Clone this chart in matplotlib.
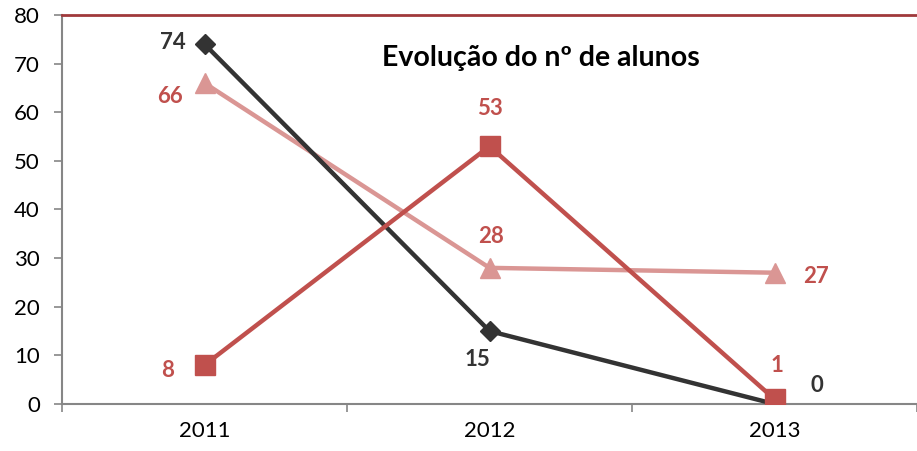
import matplotlib
matplotlib.use("Agg")
from matplotlib import pyplot as plt

# Data
years = ["2011", "2012", "2013"]
serie_preta = [74, 15, 0]
serie_vermelha = [8, 53, 1]
serie_rosa = [66, 28, 27]

# label offsets (pixels) for each point
off_preta = [(-32, 2), (-12, -28), (42, 18)]
off_vermelha = [(-37, -5), (0, 38), (2, 34)]
off_rosa = [(-34, -13), (2, 31), (42, -4)]

plt.rcParams['font.family'] = ['Lato', 'DejaVu Sans']

fig = plt.figure(figsize=(9.17, 4.51), dpi=100)
ax = fig.add_axes([62 / 917, 1 - 404 / 451, 1 - 62 / 917, (404 - 15) / 451])

x = [i + 0.5 for i in range(len(years))]

cor_preta = "#333333"
cor_verm = "#C0504D"
cor_rosa = "#DA9694"

ax.plot(x, serie_preta, color=cor_preta, lw=3.2, marker="D", ms=10.5, zorder=3)
ax.plot(x, serie_vermelha, color=cor_verm, lw=3.2, marker="s", ms=14, zorder=4)
ax.plot(x, serie_rosa, color=cor_rosa, lw=3.2, marker="^", ms=15, zorder=2)

for vals, offs, cor in [(serie_preta, off_preta, cor_preta),
                        (serie_vermelha, off_vermelha, cor_verm),
                        (serie_rosa, off_rosa, cor_verm)]:
    for xi, v, o in zip(x, vals, offs):
        ax.annotate(str(v), (xi, v), xytext=o, textcoords="offset pixels",
                    ha="center", va="center", fontsize=16, fontweight="bold",
                    color=cor)

ax.set_xlim(0, 3)
ax.set_ylim(0, 80)
ax.set_yticks(range(0, 81, 10))
ax.set_xticks([0, 1, 2, 3])
ax.set_xticklabels([])
ax.set_xticks(x, minor=True)
ax.set_xticklabels(years, minor=True)
ax.tick_params(axis="x", which="minor", length=0, pad=12, labelsize=16)
ax.tick_params(axis="x", which="major", length=6, direction="out", color="#868686", width=1.2)
ax.tick_params(axis="y", length=6, direction="out", color="#868686", width=1.2, labelsize=16, pad=10)

ax.spines["right"].set_visible(False)
ax.spines["left"].set_color("#868686")
ax.spines["left"].set_linewidth(1.5)
ax.spines["bottom"].set_color("#868686")
ax.spines["bottom"].set_linewidth(1.5)
ax.spines["top"].set_color("#A0393B")
ax.spines["top"].set_linewidth(2)

ax.text(0.56, 0.89, "Evolução do nº de alunos", transform=ax.transAxes,
        ha="center", va="center", fontsize=20.5, fontweight="bold", color="black")

fig.savefig("out.png", dpi=100)
